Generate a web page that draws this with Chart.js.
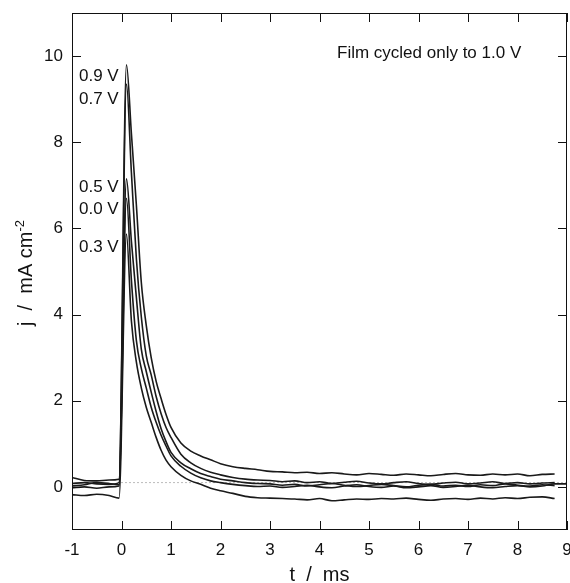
<!DOCTYPE html>
<html>
<head>
<meta charset="utf-8">
<script src="https://cdn.jsdelivr.net/npm/chart.js@4.4.1/dist/chart.umd.min.js"></script>
<style>
  html, body { margin: 0; padding: 0; background: #fff; }
</style>
</head>
<body>
<canvas id="transientChart" width="570" height="583"></canvas>
<script>
// time axis (ms) shared by all transients
var timesMs = [-1, -0.75, -0.5, -0.25, -0.05,
  0.1, 0.2, 0.3, 0.4, 0.5, 0.6, 0.7, 0.8, 0.9, 1.0,
  1.2, 1.4, 1.6, 1.8,
  2.0, 2.25, 2.5, 2.75, 3.0, 3.25, 3.5, 3.75, 4.0, 4.25, 4.5, 4.75,
  5.0, 5.25, 5.5, 5.75, 6.0, 6.25, 6.5, 6.75, 7.0, 7.25, 7.5, 7.75,
  8.0, 8.25, 8.5, 8.75, 9.0];

// current density j (mA cm-2), one array per step potential
var j09 = [0.22, 0.15, 0.14, 0.16, 0.18,
  9.8, 8.2, 6.55, 4.75, 3.75, 3.0, 2.45, 2.05, 1.68, 1.38,
  1.02, 0.83, 0.72, 0.63,
  0.54, 0.47, 0.43, 0.40, 0.36, 0.35, 0.33, 0.34, 0.31, 0.33, 0.30, 0.28,
  0.31, 0.29, 0.27, 0.30, 0.28, 0.26, 0.29, 0.31, 0.28, 0.27, 0.30, 0.28,
  0.30, 0.26, 0.29, 0.30, null];
var j07 = [0.08, 0.10, 0.07, 0.06, 0.10,
  9.35, 7.3, 5.3, 3.95, 3.05, 2.6, 2.1, 1.7, 1.38, 1.15,
  0.76, 0.56, 0.43, 0.34,
  0.28, 0.22, 0.18, 0.16, 0.15, 0.12, 0.14, 0.10, 0.12, 0.08, 0.11, 0.13,
  0.09, 0.07, 0.10, 0.12, 0.08, 0.06, 0.09, 0.11, 0.07, 0.09, 0.12, 0.08,
  0.10, 0.07, 0.09, 0.10, null];
var j05 = [0.02, 0.05, 0.10, 0.08, 0.05,
  7.15, 5.7, 4.4, 3.2, 2.68, 2.2, 1.75, 1.35, 1.05, 0.8,
  0.56, 0.42, 0.31, 0.24,
  0.18, 0.14, 0.10, 0.08, 0.07, 0.04, 0.06, 0.02, 0.05, 0.08, 0.04, 0.01,
  0.03, 0.06, 0.03, 0.00, 0.04, 0.06, 0.02, 0.04, 0.01, 0.05, 0.03, 0.07,
  0.04, 0.02, 0.05, 0.03, null];
var j00 = [-0.02, 0.00, -0.03, 0.00, 0.02,
  6.7, 4.8, 3.4, 2.75, 2.3, 1.85, 1.5, 1.2, 0.95, 0.72,
  0.48, 0.32, 0.21, 0.14,
  0.10, 0.06, 0.03, 0.01, 0.02, -0.01, 0.01, 0.04, 0.00, -0.02, 0.02, 0.05,
  0.01, -0.01, 0.02, -0.02, 0.00, 0.03, -0.01, 0.01, 0.04, 0.00, -0.02, 0.01,
  0.03, 0.00, 0.02, 0.07, 0.07];
var j03 = [-0.18, -0.20, -0.17, -0.20, -0.26,
  5.87, 3.85, 2.9, 2.3, 1.85, 1.5, 1.15, 0.85, 0.62, 0.47,
  0.27, 0.14, 0.06, -0.03,
  -0.09, -0.15, -0.22, -0.25, -0.26, -0.27, -0.28, -0.30, -0.27, -0.32, -0.30, -0.28,
  -0.29, -0.27, -0.28, -0.26, -0.29, -0.31, -0.28, -0.27, -0.29, -0.26, -0.28, -0.25,
  -0.27, -0.24, -0.23, -0.27, null];

var seriesNames = ["0.9 V", "0.7 V", "0.5 V", "0.0 V", "0.3 V"];
var seriesValues = [j09, j07, j05, j00, j03];

// dotted reference line
var refTimes = [0, 9];
var refLevel = [0.1, 0.1];

var xTickValues = [-1, 0, 1, 2, 3, 4, 5, 6, 7, 8, 9];
var yTickValues = [0, 2, 4, 6, 8, 10];

var FONT = "'Liberation Sans', Arial, sans-serif";
var INK = "#111";

Chart.defaults.font.family = FONT;
Chart.defaults.color = INK;

function toPoints(xs, ys) {
  return xs.map(function (x, i) { return { x: x, y: ys[i] }; });
}

var datasets = seriesValues.map(function (vals, i) {
  return {
    label: seriesNames[i],
    data: toPoints(timesMs, vals),
    borderColor: "#1a1a1a",
    borderWidth: 1.6,
    pointRadius: 0,
    cubicInterpolationMode: "monotone",
    fill: false
  };
});

datasets.push({
  label: "ref",
  data: toPoints(refTimes, refLevel),
  borderColor: "#777",
  borderWidth: 1,
  borderDash: [1, 3],
  pointRadius: 0,
  fill: false
});

// frame, inward ticks on all four sides, titles and labels
var framePlugin = {
  id: "frame",
  afterDraw: function (chart) {
    var ctx = chart.ctx;
    var a = chart.chartArea;
    var xs = chart.scales.x;
    var ys = chart.scales.y;
    var tick = 9;

    ctx.save();
    ctx.strokeStyle = INK;
    ctx.lineWidth = 1;
    ctx.strokeRect(a.left + 0.5, a.top + 0.5, a.right - a.left - 1, a.bottom - a.top - 1);

    ctx.beginPath();
    xTickValues.forEach(function (v) {
      var px = Math.round(xs.getPixelForValue(v)) + 0.5;
      ctx.moveTo(px, a.bottom);
      ctx.lineTo(px, a.bottom - tick);
      ctx.moveTo(px, a.top);
      ctx.lineTo(px, a.top + tick);
    });
    yTickValues.forEach(function (v) {
      var py = Math.round(ys.getPixelForValue(v)) + 0.5;
      ctx.moveTo(a.left, py);
      ctx.lineTo(a.left + tick, py);
      ctx.moveTo(a.right, py);
      ctx.lineTo(a.right - tick, py);
    });
    ctx.stroke();

    ctx.fillStyle = INK;

    // x axis title
    ctx.font = "20px " + FONT;
    ctx.textAlign = "center";
    ctx.textBaseline = "alphabetic";
    ctx.fillText("t  /  ms", (a.left + a.right) / 2, 581);

    // y axis title with superscript
    var main = "j  /  mA cm";
    var sup = "-2";
    ctx.save();
    ctx.translate(32, 273);
    ctx.rotate(-Math.PI / 2);
    ctx.font = "20px " + FONT;
    var wMain = ctx.measureText(main).width;
    ctx.font = "13px " + FONT;
    var wSup = ctx.measureText(sup).width;
    var start = -(wMain + wSup) / 2;
    ctx.textAlign = "left";
    ctx.font = "20px " + FONT;
    ctx.fillText(main, start, 0);
    ctx.font = "13px " + FONT;
    ctx.fillText(sup, start + wMain, -8);
    ctx.restore();

    // potential labels next to the peaks
    var labelLevels = [9.53, 9.0, 6.96, 6.45, 5.57];
    ctx.font = "17px " + FONT;
    ctx.textAlign = "left";
    ctx.textBaseline = "middle";
    seriesNames.forEach(function (name, i) {
      ctx.fillText(name, 79, ys.getPixelForValue(labelLevels[i]));
    });

    ctx.fillText("Film cycled only to 1.0 V", 337, 53);
    ctx.restore();
  }
};

var ctx = document.getElementById("transientChart").getContext("2d");

var transientChart = new Chart(ctx, {
  type: "line",
  data: { datasets: datasets },
  plugins: [framePlugin],
  options: {
    responsive: false,
    animation: false,
    devicePixelRatio: 1,
    layout: { padding: { top: 13, right: 3, left: 0, bottom: 0 } },
    plugins: {
      legend: { display: false },
      tooltip: { enabled: false }
    },
    scales: {
      x: {
        type: "linear",
        min: -1,
        max: 9,
        grid: { display: false, drawTicks: false },
        border: { display: false },
        afterBuildTicks: function (scale) {
          scale.ticks = xTickValues.map(function (v) { return { value: v }; });
        },
        afterFit: function (scale) {
          scale.height = 53;
          scale.paddingLeft = 0;
          scale.paddingRight = 0;
        },
        ticks: { padding: 10, maxRotation: 0, autoSkip: false, font: { size: 17 }, color: INK }
      },
      y: {
        type: "linear",
        min: -1,
        max: 11,
        grid: { display: false, drawTicks: false },
        border: { display: false },
        afterBuildTicks: function (scale) {
          scale.ticks = yTickValues.map(function (v) { return { value: v }; });
        },
        afterFit: function (scale) {
          scale.width = 72;
          scale.paddingTop = 0;
          scale.paddingBottom = 0;
        },
        ticks: { padding: 9, font: { size: 17 }, color: INK }
      }
    }
  }
});
</script>
</body>
</html>
